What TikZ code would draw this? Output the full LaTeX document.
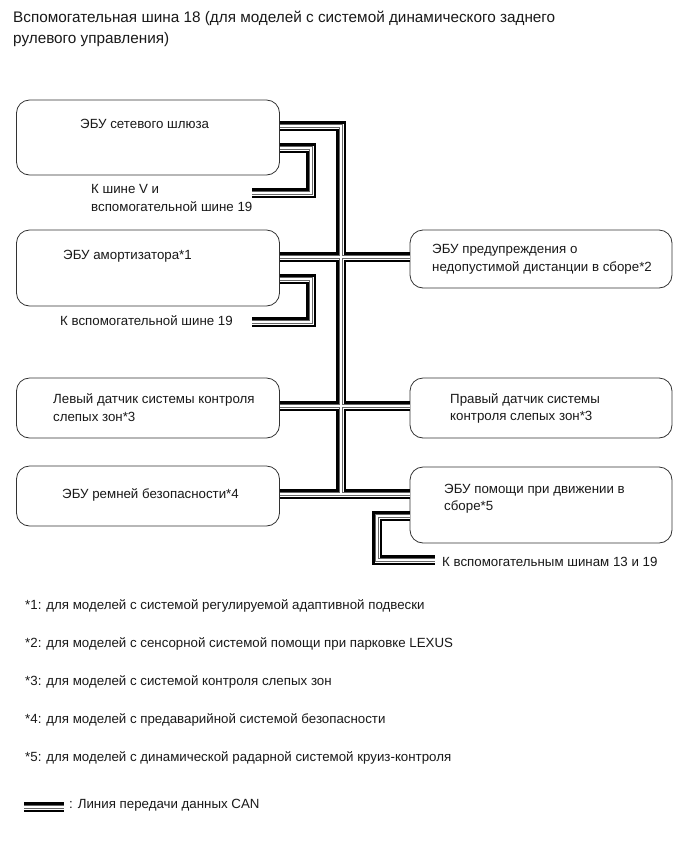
\documentclass[tikz,border=0pt]{standalone}
\usepackage{fontspec}
\setmainfont{Liberation Sans}
\begin{document}
\begin{tikzpicture}[x=1pt,y=-1pt,
  box/.style={draw=black!80, line width=0.8pt, rounded corners=13pt, inner sep=0pt},
  lbl/.style={anchor=west, inner sep=0pt, align=left, font=\fontsize{13.3}{17.5}\selectfont, text=black!90},
  ttl/.style={anchor=west, inner sep=0pt, align=left, font=\fontsize{15.3}{21.5}\selectfont, text=black!90},
  note/.style={anchor=west, inner sep=0pt, font=\fontsize{13.3}{16}\selectfont, text=black!90}]
\useasboundingbox (0,0) rectangle (690,855);
\fill[white] (0,0) rectangle (690,855);

% title
\node[ttl] (title) at (13,29) {Вспомогательная шина 18 (для моделей с системой динамического заднего\\рулевого управления)};

% boxes
\node[box, minimum width=263pt, minimum height=75pt] (gw) at (148,137.5) {};
\node[box, minimum width=263pt, minimum height=76pt] (sa) at (148,268) {};
\node[box, minimum width=263pt, minimum height=60pt] (bl) at (148,408) {};
\node[box, minimum width=263pt, minimum height=60pt] (sb) at (148,496) {};
\node[box, minimum width=262pt, minimum height=58pt] (ew) at (541,259) {};
\node[box, minimum width=262pt, minimum height=60pt] (br) at (541,408) {};
\node[box, minimum width=262pt, minimum height=76pt] (da) at (541,505) {};

% box texts
\node[lbl] (gwt) at (80,124) {ЭБУ сетевого шлюза};
\node[lbl] (sat) at (63,256) {ЭБУ амортизатора*1};
\node[lbl] (blt) at (53,407.5) {Левый датчик системы контроля\\слепых зон*3};
\node[lbl] (sbt) at (62,495) {ЭБУ ремней безопасности*4};
\node[lbl] (ewt) at (432,259) {ЭБУ предупреждения о\\недопустимой дистанции в сборе*2};
\node[lbl] (brt) at (450,408.5) {Правый датчик системы\\контроля слепых зон*3};
\node[lbl] (dat) at (444,498.5) {ЭБУ помощи при движении в\\сборе*5};

% stub labels
\node[lbl] (s1t) at (91,198) {К шине V и\\вспомогательной шине 19};
\node[lbl] (s2t) at (60,321) {К вспомогательной шине 19};
\node[lbl] (s3t) at (442,562) {К вспомогательным шинам 13 и 19};

% bus coordinates
\coordinate (tr1) at (341,126);
\coordinate (tr2) at (341,494);
\coordinate (a1) at (311,148);
\coordinate (a2) at (311,193);
\coordinate (s1) at (252,193);
\coordinate (b1) at (311,279);
\coordinate (b2) at (311,322);
\coordinate (s2) at (252,322);
\coordinate (c1) at (377,516);
\coordinate (c2) at (377,560);
\coordinate (s3) at (435,560);
\coordinate (lg1) at (24,807);
\coordinate (lg2) at (64,807);

\foreach \w/\c in {9.5/black, 5.0/white, 3.4/black!60, 1.3/white}{
  \draw[line width=\w pt, draw=\c, line join=miter, line cap=butt]
    (gw.east |- 0,126) -- (tr1) -- (tr2)
    (gw.east |- 0,148) -- (a1) -- (a2) -- (s1)
    (sa.east |- 0,257) -- (ew.west |- 0,257)
    (sa.east |- 0,279) -- (b1) -- (b2) -- (s2)
    (bl.east |- 0,406) -- (br.west |- 0,406)
    (sb.east |- 0,494) -- (da.west |- 0,494)
    (da.west |- 0,516) -- (c1) -- (c2) -- (s3)
    (lg1) -- (lg2);
}

% footnotes
\node[note] (n1) at (25,606) {*1: для моделей с системой регулируемой адаптивной подвески};
\node[note] (n2) at (25,644) {*2: для моделей с сенсорной системой помощи при парковке LEXUS};
\node[note] (n3) at (25,682) {*3: для моделей с системой контроля слепых зон};
\node[note] (n4) at (25,720) {*4: для моделей с предаварийной системой безопасности};
\node[note] (n5) at (25,758) {*5: для моделей с динамической радарной системой круиз-контроля};

% legend
\node[note] (lgt) at (69,805) {: Линия передачи данных CAN};
\end{tikzpicture}
\end{document}
